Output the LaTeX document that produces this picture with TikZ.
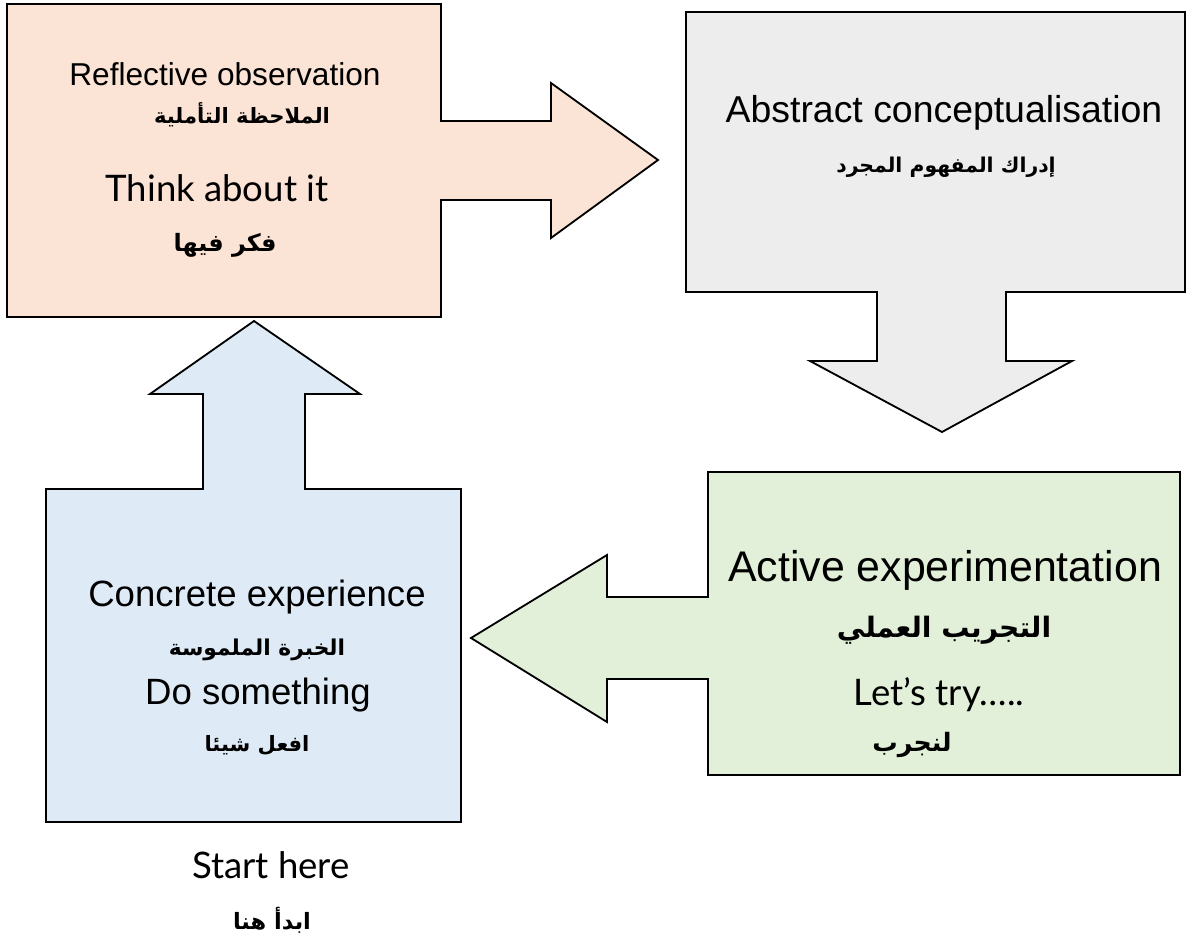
\documentclass[tikz,border=0pt]{standalone}
\usepackage{fontspec}
\setmainfont{Liberation Sans}
\newfontfamily\gillfont{Lato}
\newfontfamily\arabicfont[Script=Arabic]{DejaVu Sans}
\TeXXeTstate=1
\usetikzlibrary{positioning}
\definecolor{reflcol}{HTML}{FBE4D5}
\definecolor{abstcol}{HTML}{EDEDED}
\definecolor{acticol}{HTML}{E2EFD9}
\definecolor{conccol}{HTML}{DEEAF6}

\begin{document}
\begin{tikzpicture}[
			x=0.025cm,
			y=-0.025cm,
			stage/.style={
				draw=black,
				line width=1.3pt,
				line join=miter
			},
			latin/.style={
				font=\fontsize{#1}{#1}\selectfont,
				inner sep=0pt
			},
			gill/.style={
				font=\gillfont\fontsize{#1}{#1}\selectfont,
				inner sep=0pt
			},
			arab/.style={
				font=\arabicfont\bfseries\fontsize{#1}{#1}\selectfont,
				inner sep=0pt
			}
			]
			\useasboundingbox (0,0) rectangle (1194,944);
			
			% Stages
			\draw[stage, fill=reflcol] (7,4) -- (441,4) -- (441,121) -- (551,121) -- (551,83) -- (658,160) -- (551,238) -- (551,200) -- (441,200) -- (441,317) -- (7,317) -- cycle;
			\draw[stage, fill=abstcol] (686,12) -- (1185,12) -- (1185,292) -- (1006,292) -- (1006,361) -- (1072,361) -- (942,432) -- (810,361) -- (877,361) -- (877,292) -- (686,292) -- cycle;
			\draw[stage, fill=acticol] (708,472) -- (1180,472) -- (1180,775) -- (708,775) -- (708,679) -- (607,679) -- (607,722) -- (471,638) -- (607,555) -- (607,597) -- (708,597) -- cycle;
			\draw[stage, fill=conccol] (46,489) -- (203,489) -- (203,394) -- (150,394) -- (254,321) -- (360,394) -- (305,394) -- (305,489) -- (461,489) -- (461,822) -- (46,822) -- cycle;
			
			% Labels
			\node[latin=22.5] (refl) at (225,74) {Reflective observation};
			\node[arab=15] (reflAr) at (242,115) {\beginR الملاحظة التأملية\endR};
			\node[gill=26] (think) at (217,188) {Think about it};
			\node[arab=17] (thinkAr) at (225,245) {\beginR فكر فيها\endR};
			
			\node[latin=26.6] (abst) at (944,113) {Abstract conceptualisation};
			\node[arab=14.5] (abstAr) at (946,167) {\beginR إدراك المفهوم المجرد\endR};
			
			\node[latin=30.5] (acti) at (945,570) {Active experimentation};
			\node[arab=20] (actiAr) at (944,630) {\beginR التجريب العملي\endR};
			\node[gill=26] (try) at (939,695) {Let’s try…..};
			\node[arab=18] (tryAr) at (912,745) {\beginR لنجرب\endR};
			
			\node[latin=26] (conc) at (257,597) {Concrete experience};
			\node[arab=15.5] (concAr) at (257,650) {\beginR الخبرة الملموسة\endR};
			\node[latin=26] (doit) at (258,695) {Do something};
			\node[arab=15] (doitAr) at (257,745) {\beginR افعل شيئا\endR};
			
			\node[gill=26] (start) at (271,865) {Start here};
			\node[arab=16] (startAr) at (272,920) {\beginR ابدأ هنا\endR};
		\end{tikzpicture}
\end{document}
